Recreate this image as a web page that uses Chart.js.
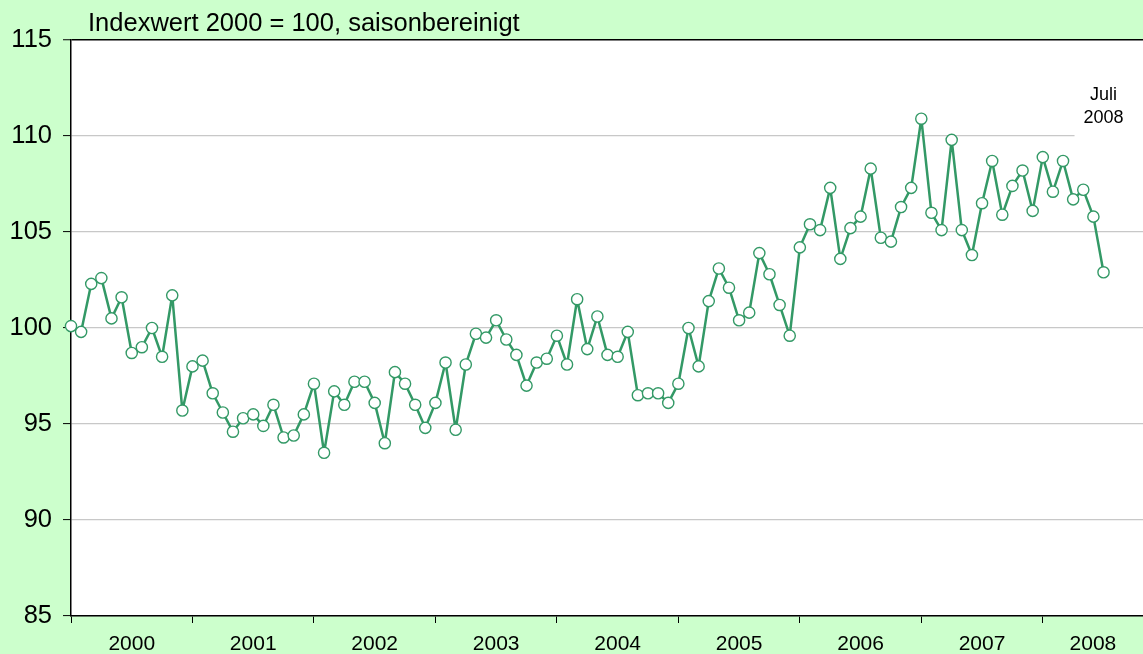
<!DOCTYPE html>
<html><head><meta charset="utf-8">
<script src="https://cdn.jsdelivr.net/npm/chart.js@4.4.1/dist/chart.umd.min.js"></script>
<style>html,body{margin:0;padding:0;background:#ccffcc;overflow:hidden;} #wrap{width:1143px;height:654px;}</style>
</head><body><div id="wrap"><canvas id="c" width="1143" height="654"></canvas></div>
<script>
// Monthly index values (2000 = 100, seasonally adjusted), Jan 2000 - Jul 2008
const v2000 = [100.1, 99.8, 102.3, 102.6, 100.5, 101.6, 98.7, 99.0, 100.0, 98.5, 101.7, 95.7];
const v2001 = [98.0, 98.3, 96.6, 95.6, 94.6, 95.3, 95.5, 94.9, 96.0, 94.3, 94.4, 95.5];
const v2002 = [97.1, 93.5, 96.7, 96.0, 97.2, 97.2, 96.1, 94.0, 97.7, 97.1, 96.0, 94.8];
const v2003 = [96.1, 98.2, 94.7, 98.1, 99.7, 99.5, 100.4, 99.4, 98.6, 97.0, 98.2, 98.4];
const v2004 = [99.6, 98.1, 101.5, 98.9, 100.6, 98.6, 98.5, 99.8, 96.5, 96.6, 96.6, 96.1];
const v2005 = [97.1, 100.0, 98.0, 101.4, 103.1, 102.1, 100.4, 100.8, 103.9, 102.8, 101.2, 99.6];
const v2006 = [104.2, 105.4, 105.1, 107.3, 103.6, 105.2, 105.8, 108.3, 104.7, 104.5, 106.3, 107.3];
const v2007 = [110.9, 106.0, 105.1, 109.8, 105.1, 103.8, 106.5, 108.7, 105.9, 107.4, 108.2, 106.1];
const v2008 = [108.9, 107.1, 108.7, 106.7, 107.2, 105.8, 102.9];

const yearLabels = ['2000', '2001', '2002', '2003', '2004', '2005', '2006', '2007', '2008'];
const yTickValues = [85, 90, 95, 100, 105, 110, 115];
const titleText = 'Indexwert 2000 = 100, saisonbereinigt';
const noteLines = ['Juli', '2008'];

const values = [].concat(v2000, v2001, v2002, v2003, v2004, v2005, v2006, v2007, v2008);
const points = values.map((v, i) => ({x: i, y: v}));
const X_MAX = 105.9;
const FONT = '"Liberation Sans", Arial, sans-serif';
const GREEN = '#339966';

// x ticks: year boundaries (marks) and year centres (labels)
const xTicks = [];
yearLabels.forEach((y, k) => {
  xTicks.push({value: k * 12, kind: 'mark'});
  const end = Math.min((k + 1) * 12, X_MAX);
  xTicks.push({value: (k * 12 + end) / 2, kind: 'label', label: y});
});

const bgPlugin = {
  id: 'bg',
  beforeDraw(chart) {
    const {ctx, chartArea: a} = chart;
    ctx.save();
    ctx.fillStyle = '#ccffcc';
    ctx.fillRect(0, 0, chart.width, chart.height);
    ctx.fillStyle = '#ffffff';
    ctx.fillRect(a.left, a.top, a.right - a.left, a.bottom - a.top);
    ctx.restore();
  },
  beforeDatasetsDraw(chart) {
    const {ctx, chartArea: a} = chart;
    const xs = chart.scales.x, ys = chart.scales.y;
    const cx = xs.getPixelForValue(values.length - 1);
    ctx.save();
    ctx.fillStyle = '#ffffff';
    ctx.fillRect(cx - 29, ys.getPixelForValue(112), a.right - (cx - 29), ys.getPixelForValue(109.8) - ys.getPixelForValue(112));
    ctx.fillStyle = '#000';
    ctx.font = '18px ' + FONT;
    ctx.textAlign = 'center';
    ctx.textBaseline = 'alphabetic';
    ctx.fillText(noteLines[0], cx, 100);
    ctx.fillText(noteLines[1], cx, 123);
    ctx.restore();
  },
  afterDraw(chart) {
    const {ctx} = chart;
    ctx.save();
    ctx.fillStyle = '#000';
    ctx.font = '25.5px ' + FONT;
    ctx.textAlign = 'left';
    ctx.textBaseline = 'alphabetic';
    ctx.fillText(titleText, 88, 31);
    ctx.restore();
  }
};

new Chart(document.getElementById('c'), {
  type: 'line',
  data: {
    datasets: [{
      data: points,
      borderColor: GREEN,
      borderWidth: 2.5,
      borderJoinStyle: 'round',
      pointRadius: 5.6,
      pointBorderWidth: 1.4,
      pointBackgroundColor: '#ffffff',
      pointBorderColor: GREEN,
      tension: 0,
      clip: false
    }]
  },
  options: {
    responsive: false,
    animation: false,
    devicePixelRatio: 1,
    layout: {autoPadding: false, padding: {top: 40, right: 0, left: 0, bottom: 0}},
    plugins: {legend: {display: false}, tooltip: {enabled: false}, title: {display: false}},
    scales: {
      x: {
        type: 'linear',
        min: 0,
        max: X_MAX,
        position: 'bottom',
        afterBuildTicks(scale) { scale.ticks = xTicks.map(t => ({value: t.value})); },
        afterFit(scale) { scale.height = 38; },
        border: {display: true, color: '#000', width: 1.5},
        grid: {
          drawOnChartArea: false,
          drawTicks: true,
          tickLength: 7,
          tickWidth: 1,
          tickColor: (ctx) => (ctx.tick && ctx.tick.value % 12 === 0) ? '#000' : 'rgba(0,0,0,0)'
        },
        ticks: {
          autoSkip: false,
          maxRotation: 0,
          minRotation: 0,
          padding: 9,
          color: '#000',
          font: {family: FONT, size: 21},
          callback: (value) => {
            const t = xTicks.find(tt => Math.abs(tt.value - value) < 1e-6);
            return t && t.kind === 'label' ? t.label : '';
          }
        }
      },
      y: {
        min: 85,
        max: 115,
        afterBuildTicks(scale) { scale.ticks = yTickValues.map(v => ({value: v})); },
        afterFit(scale) { scale.width = 71; },
        border: {display: true, color: '#000', width: 1.5},
        grid: {
          color: (ctx) => (ctx.tick && ctx.tick.value === 115) ? '#000' : '#c8c8c8',
          lineWidth: (ctx) => (ctx.tick && ctx.tick.value === 115) ? 1.5 : 1.2,
          tickColor: '#000',
          tickLength: 8,
          tickWidth: 1
        },
        ticks: {
          padding: 11,
          color: '#000',
          font: {family: FONT, size: 25.5},
          callback: (v) => String(v)
        }
      }
    }
  },
  plugins: [bgPlugin]
});
</script>
</body></html>
